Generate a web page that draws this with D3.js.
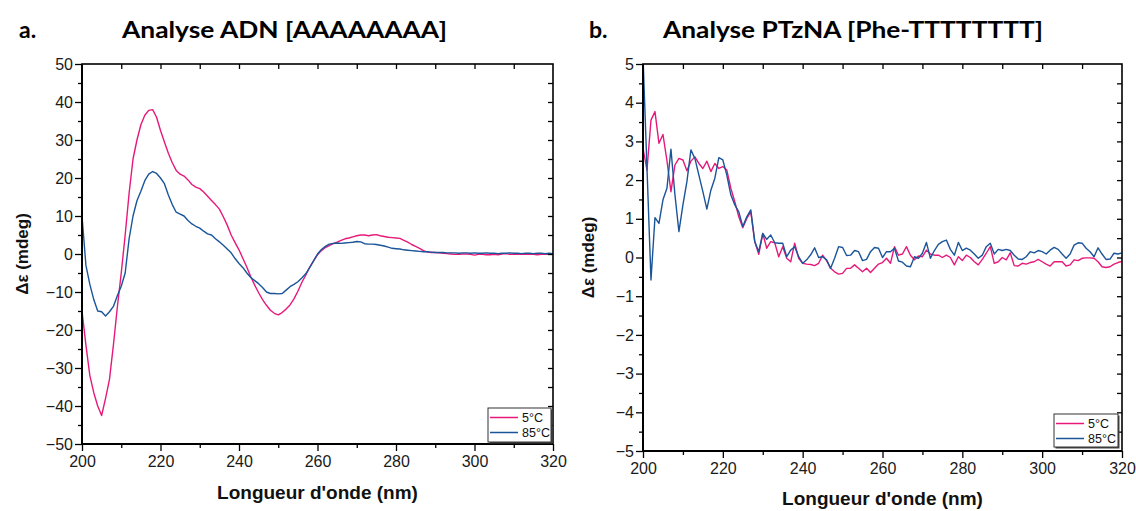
<!DOCTYPE html>
<html><head><meta charset="utf-8">
<script src="https://cdn.jsdelivr.net/npm/d3@7"></script>
<style>
html,body{margin:0;padding:0;background:#fff;}
svg{display:block;}
</style></head>
<body>
<svg id="chart" width="1136" height="511"></svg>
<script>
// ---------- DATA ----------
const wavelength = d3.range(200, 321); // nm, 1 nm step (200..320)
const seriesNames = ["5°C", "85°C"];
const panelTitles = ["Analyse ADN [AAAAAAAA]", "Analyse PTzNA [Phe-TTTTTTTT]"];
const panelLetters = ["a.", "b."];
const xTicks = [200, 220, 240, 260, 280, 300, 320];
const yTicksA = [-50, -40, -30, -20, -10, 0, 10, 20, 30, 40, 50];
const yTicksB = [-5, -4, -3, -2, -1, 0, 1, 2, 3, 4, 5];

// Panel a : ADN, 5°C
const adn5 = [
-15,-24,-32,-36.5,-40,-42.5,-38,-33,-24,-14,
-5,5,16,25,30,34,36.5,37.8,38,36,
32.5,29.5,26.5,24,22,21,20.5,19.5,18.3,17.6,
17.2,16.3,15.2,14.1,13,11.8,9.8,7.6,5,3,
1.1,-1.2,-3.5,-6,-8.2,-10.2,-12,-13.5,-14.8,-15.6,
-16,-15.4,-14.5,-13.4,-11.8,-9.8,-7.5,-5.6,-3.5,-1.8,
-0.2,0.9,1.7,2.2,2.7,3.1,3.6,4,4.2,4.5,
4.8,5,5,4.8,5,5.1,4.8,4.6,4.4,4.3,
4.2,4.1,3.6,3.1,2.5,2,1.5,0.9,0.5,0.4,
0.4,0.3,0.2,0.1,0,-0.1,-0.1,0,0,-0.1,
-0.3,-0.1,-0.1,-0.2,-0.2,-0.1,-0.2,0,0.1,-0.1,
-0.1,0,-0.1,-0.1,0,-0.1,-0.2,-0.1,0,-0.1,
-0.1];
// Panel a : ADN, 85°C
const adn85 = [
10,-3,-8,-12,-15,-15.2,-16.3,-15.2,-13.8,-11,
-8.5,-5,4,10,14,16.5,19.3,21,21.7,21.2,
20,18.5,15.5,13,11,10.5,10,8.8,7.9,7.3,
6.8,6,5.3,5,4,3.2,2.3,1.3,0.3,-1.2,
-2.5,-3.6,-5,-6.2,-7,-7.8,-8.8,-10,-10.4,-10.4,
-10.5,-10.4,-9.5,-8.6,-8,-7.3,-6.3,-5.2,-3.6,-1.8,
0,1.2,2,2.6,2.8,2.9,2.8,2.9,3,3.1,
3.3,3.2,2.7,2.6,2.6,2.5,2.3,2.1,1.8,1.5,
1.4,1.3,1.1,1,0.9,0.8,0.7,0.6,0.6,0.5,
0.4,0.4,0.4,0.3,0.3,0.3,0.2,0.3,0.3,0.2,
0.3,0.2,0.2,0.3,0.2,0.2,0.1,0.2,0.2,0.3,
0.2,0.2,0.1,0.2,0.2,0.1,0.2,0.2,0.1,0.2,
0.1];
// Panel b : PTzNA, 5°C
const ptz5 = [
2.82,2.26,3.55,3.77,2.95,3.18,2.5,1.7,2.39,2.56,
2.52,2.24,2.49,2.6,2.43,2.3,2.49,2.22,2.43,2.3,
2.35,2.26,1.79,1.44,1.05,0.77,1.01,1.18,0.41,0.08,
0.62,0.24,0.41,0.38,0.02,0.28,-0.02,-0.11,0.37,-0.02,
-0.15,-0.17,-0.18,-0.21,-0.15,0.06,-0.08,-0.28,-0.37,-0.43,
-0.41,-0.28,-0.28,-0.19,-0.28,-0.37,-0.28,-0.39,-0.28,-0.17,
-0.13,-0.02,-0.15,0.28,0.06,0.09,0.28,0.06,-0.06,0.04,
0.02,0.19,0.09,0.06,0.06,
0,0.06,0,-0.19,0.02,-0.08,0.06,0,-0.11,-0.19,
-0.05,0.11,0.28,-0.15,-0.11,0,-0.06,0.12,-0.21,-0.22,
-0.15,-0.17,-0.13,-0.11,-0.05,-0.11,-0.17,-0.22,-0.11,-0.11,
-0.11,-0.22,-0.19,-0.06,-0.08,-0.02,-0.01,-0.01,-0.02,-0.11,
-0.24,-0.26,-0.24,-0.17,-0.13,-0.1];
// Panel b : PTzNA, 85°C
const ptz85 = [
5.2,2.3,-0.58,1.03,0.88,1.49,1.79,2.8,1.62,0.67,
1.36,1.96,2.78,2.56,2.13,1.7,1.25,1.74,2.05,2.58,
2.52,2.13,1.62,1.36,1.18,0.8,1.05,1.23,0.41,0.15,
0.62,0.47,0.58,0.38,0.37,0.37,0.02,0.19,0.28,0.02,
-0.15,-0.06,0.07,0.25,0,0.02,-0.06,-0.28,-0.02,0.28,
0.26,0.05,0.06,0.18,0.15,-0.08,-0.05,0.15,0.26,0.24,
0,0.15,0.15,0.24,-0.09,-0.12,-0.22,-0.24,0.02,-0.02,
0.11,0.39,-0.02,0.18,0.34,
0.41,0.45,0.21,0.06,0.39,0.18,0.24,0.19,0.09,-0.02,
0.06,0.28,0.37,0.09,0.21,0.18,0.21,0.18,0.06,-0.04,
-0.05,0.02,0.15,0.12,0.18,0.15,0.09,0.19,0.26,0.21,
0.09,-0.02,0.09,0.32,0.38,0.37,0.24,0.15,0.02,0.25,
0.09,-0.05,-0.04,0.11,0.09,0.12];

const colors = ["#e6197b", "#1a5599"];

// ---------- DRAW ----------
const svg = d3.select("#chart");
const tickFont = "'Liberation Sans', Arial, sans-serif";

function drawPanel(o) {
  const x = d3.scaleLinear().domain([200, 320]).range([o.x0, o.x1]);
  const y = d3.scaleLinear().domain(o.yDomain).range([o.y1, o.y0]);
  const g = svg.append("g");

  const clipId = "clip" + o.id;
  svg.append("clipPath").attr("id", clipId).append("rect")
    .attr("x", o.x0).attr("y", o.y0).attr("width", o.x1 - o.x0).attr("height", o.y1 - o.y0);

  // series
  const line = d3.line().x((d, i) => x(wavelength[i])).y(d => y(d));
  o.series.forEach((s, k) => {
    g.append("path").datum(s).attr("d", line)
      .attr("fill", "none").attr("stroke", colors[k]).attr("stroke-width", 1.4)
      .attr("stroke-linejoin", "round").attr("clip-path", `url(#${clipId})`);
  });

  // bottom axis: major ticks labelled, minor ticks between
  const bottom = d3.axisBottom(x).tickValues(xTicks).tickSize(7).tickPadding(5).tickFormat(d3.format("d"));
  g.append("g").attr("transform", `translate(0,${o.y1})`).call(bottom);
  const bMinor = d3.axisBottom(x).tickValues(d3.range(210, 320, 20)).tickSize(4).tickFormat("");
  g.append("g").attr("transform", `translate(0,${o.y1})`).call(bMinor);

  // left axis
  const left = d3.axisLeft(y).tickValues(o.yTicks).tickSize(7).tickPadding(2);
  g.append("g").attr("transform", `translate(${o.x0},0)`).call(left);
  const lMinor = d3.axisLeft(y).tickValues(o.yMinor).tickSize(4).tickFormat("");
  g.append("g").attr("transform", `translate(${o.x0},0)`).call(lMinor);

  // top axis: inward ticks, no labels
  const top = d3.axisBottom(x).tickValues(d3.range(210, 320, 10)).tickSize(5).tickFormat("");
  g.append("g").attr("transform", `translate(0,${o.y0})`).call(top);
  // right axis: inward ticks
  const right = d3.axisLeft(y).tickValues(o.yMinorAll).tickSize(5).tickFormat("");
  g.append("g").attr("transform", `translate(${o.x1},0)`).call(right);

  g.selectAll(".domain").remove();
  g.selectAll(".tick line").attr("stroke", "#000").attr("stroke-width", 1.3);
  g.selectAll(".tick text").attr("font-family", tickFont).attr("font-size", 16).attr("fill", "#1a1a1a");

  // frame
  g.append("rect").attr("x", o.x0).attr("y", o.y0).attr("width", o.x1 - o.x0).attr("height", o.y1 - o.y0)
    .attr("fill", "none").attr("stroke", "#000").attr("stroke-width", 1.6);
  g.append("path").attr("d", `M${o.x0},${o.y0}V${o.y1}H${o.x1}`)
    .attr("fill", "none").attr("stroke", "#000").attr("stroke-width", 2);

  // axis titles
  g.append("text").attr("x", (o.x0 + o.x1) / 2).attr("y", o.xTitleY)
    .attr("text-anchor", "middle").attr("font-family", tickFont).attr("font-weight", "bold")
    .attr("font-size", 19).attr("fill", "#111").text("Longueur d'onde (nm)");
  g.append("text").attr("transform", `translate(${o.yTitleX},${(o.y0 + o.y1) / 2}) rotate(-90)`)
    .attr("text-anchor", "middle").attr("font-family", tickFont).attr("font-weight", "bold")
    .attr("font-size", 17).attr("fill", "#111").text("Δε (mdeg)");

  // panel titles
  g.append("text").attr("x", o.letterX).attr("y", 38).attr("font-family", "Lato, 'Open Sans', sans-serif")
    .attr("font-weight", "bold").attr("font-size", 23).attr("fill", "#000").text(o.letter);
  g.append("text").attr("x", o.titleX).attr("y", 38).attr("font-family", "Lato, 'Open Sans', sans-serif")
    .attr("font-weight", "bold").attr("font-size", 23).attr("fill", "#000")
    .attr("textLength", o.titleW).attr("lengthAdjust", "spacingAndGlyphs").text(o.title);

  // legend
  const L = o.legend;
  const lg = g.append("g");
  lg.append("rect").attr("x", L.x + 1.5).attr("y", L.y + 1.5).attr("width", L.w).attr("height", L.h).attr("fill", "#444");
  lg.append("rect").attr("x", L.x).attr("y", L.y).attr("width", L.w).attr("height", L.h)
    .attr("fill", "#fff").attr("stroke", "#333").attr("stroke-width", 1);
  seriesNames.forEach((n, k) => {
    const yy = L.y + 9.5 + k * 15;
    lg.append("line").attr("x1", L.x + 2).attr("x2", L.x + 30).attr("y1", yy).attr("y2", yy)
      .attr("stroke", colors[k]).attr("stroke-width", 1.5);
    lg.append("text").attr("x", L.x + 34).attr("y", yy + 4.5).attr("font-family", tickFont)
      .attr("font-size", 12.5).attr("fill", "#111").text(n);
  });
}

drawPanel({
  id: "a", x0: 82, x1: 553, y0: 64, y1: 444,
  yDomain: [-50, 50], yTicks: yTicksA, yMinor: d3.range(-45, 50, 10), yMinorAll: d3.range(-45, 50, 5),
  series: [adn5, adn85], xTitleY: 499, yTitleX: 28,
  letter: panelLetters[0], letterX: 19, title: panelTitles[0], titleX: 122, titleW: 325,
  legend: {x: 488, y: 408, w: 63, h: 34}
});
drawPanel({
  id: "b", x0: 643, x1: 1122, y0: 64, y1: 451,
  yDomain: [-5, 5], yTicks: yTicksB, yMinor: d3.range(-4.5, 5, 1), yMinorAll: d3.range(-4.5, 5, 0.5),
  series: [ptz5, ptz85], xTitleY: 505, yTitleX: 594,
  letter: panelLetters[1], letterX: 589, title: panelTitles[1], titleX: 663, titleW: 380,
  legend: {x: 1054, y: 414, w: 64, h: 33}
});
</script>
</body></html>
